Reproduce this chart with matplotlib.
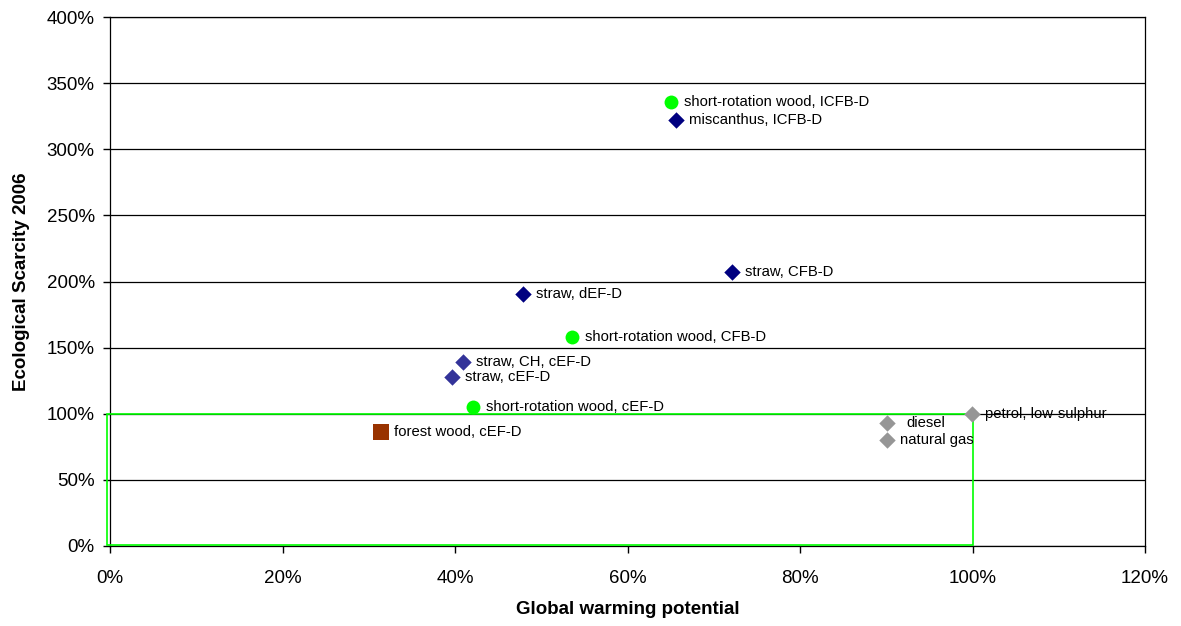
import matplotlib.pyplot as plt
from matplotlib.patches import Rectangle
from matplotlib.ticker import FuncFormatter

plt.rcParams['font.family'] = ['Liberation Sans', 'DejaVu Sans']

# global warming potential (%), ecological scarcity 2006 (%)
names = ['short-rotation wood, ICFB-D', 'miscanthus, ICFB-D', 'straw, CFB-D',
         'straw, dEF-D', 'short-rotation wood, CFB-D', 'straw, CH, cEF-D',
         'straw, cEF-D', 'short-rotation wood, cEF-D', 'forest wood, cEF-D',
         'diesel', 'natural gas', 'petrol, low-sulphur']
gwp = [65.0, 65.6, 72.1, 47.9, 53.6, 40.9, 39.7, 42.1, 31.4, 90.1, 90.1, 99.9]
eco = [336, 322, 207, 190.5, 158, 139, 128, 105, 86, 93, 80, 100]
kinds = ['wood', 'navy', 'navy', 'navy', 'wood', 'blue', 'blue', 'wood',
         'forest', 'fossil', 'fossil', 'fossil']

styles = {
    'wood': dict(marker='o', color='#00FF00', s=100),
    'navy': dict(marker='D', color='#000080', s=70),
    'blue': dict(marker='D', color='#333399', s=70),
    'forest': dict(marker='s', color='#993300', s=125),
    'fossil': dict(marker='D', color='#969696', s=70),
}
offsets = {'diesel': 19}

fig = plt.figure(figsize=(11.81, 6.26), dpi=100)
ax = fig.add_axes([110 / 1181, 80 / 626, 1035 / 1181, 529 / 626])

ax.add_patch(Rectangle((-0.35, 0.8), 100.35, 99.2, fill=False,
                       edgecolor='#00FF00', lw=1.2, zorder=4, clip_on=False))

for n, x, y, k in zip(names, gwp, eco, kinds):
    ax.scatter(x, y, linewidths=0, zorder=5, **styles[k])
    ax.annotate(n, (x, y), xytext=(offsets.get(n, 13), 0),
                textcoords='offset pixels',
                va='center', ha='left', fontsize=10.7, zorder=6)

ax.set_xlim(0, 120)
ax.set_ylim(0, 400)
ax.set_xticks(range(0, 121, 20))
ax.set_yticks(range(0, 401, 50))
pct = FuncFormatter(lambda v, p: f'{v:.0f}%')
ax.xaxis.set_major_formatter(pct)
ax.yaxis.set_major_formatter(pct)
ax.tick_params(labelsize=13.5, length=5, width=1, direction='out')
ax.tick_params(axis='x', pad=12)
ax.tick_params(axis='y', pad=6)
ax.yaxis.grid(True, color='black', lw=0.9)
ax.set_axisbelow(True)
for sp in ax.spines.values():
    sp.set_color('black')
    sp.set_linewidth(0.9)

ax.set_xlabel('Global warming potential', fontsize=13.5, fontweight='bold',
              labelpad=10)
ax.set_ylabel('Ecological Scarcity 2006', fontsize=13.5, fontweight='bold',
              labelpad=12)

fig.savefig('out.png', dpi=100)
